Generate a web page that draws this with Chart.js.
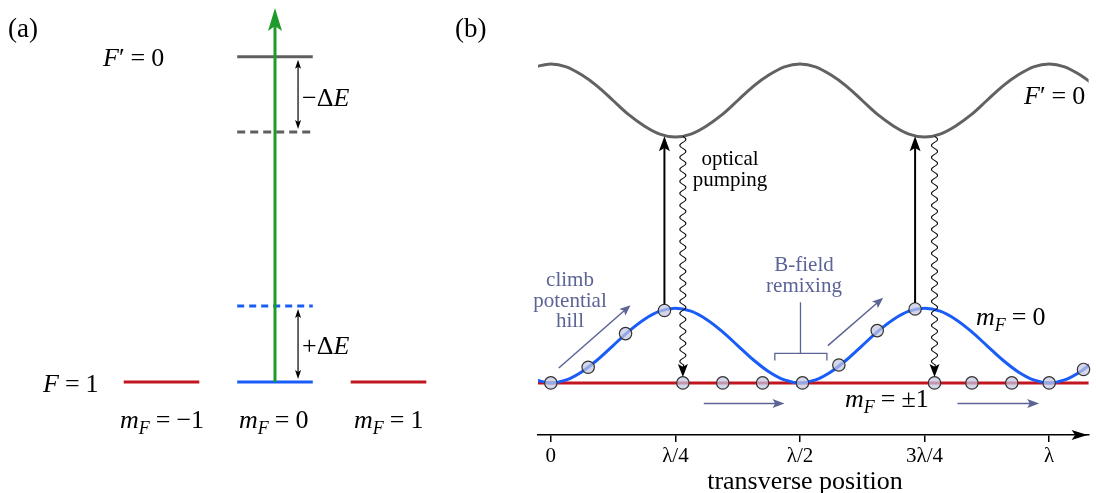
<!DOCTYPE html>
<html>
<head>
<meta charset="utf-8">
<script src="https://cdn.jsdelivr.net/npm/chart.js@4.4.0/dist/chart.umd.min.js"></script>
<style>
  body { margin: 0; background: #fff; }
  #wrap { position: relative; width: 1096px; height: 493px; overflow: hidden; }
  #chartA { position: absolute; left: 0; top: 0; }
  #chartB { position: absolute; left: 440px; top: 0; }
</style>
</head>
<body>
<div id="wrap">
  <canvas id="chartA" width="440" height="493"></canvas>
  <canvas id="chartB" width="656" height="493"></canvas>
</div>
<script>
const serif = '"Liberation Serif", "Times New Roman", serif';
const green = '#1f9b2b', blue = '#1a5cf8', red = '#c1161f', gray = '#666666', slate = '#5b6495';
const atomFill = 'rgba(196,198,226,0.72)';

// ---- panel (a): levels (energy in units of ΔE) ----
const mFStates = [-1, 0, 1];
const levelColors = [red, blue, red];
const levelHalf = 0.333;
const groundE = 0;            // F = 1
const excitedE = 4.28;        // F' = 0
const excitedShiftedE = 3.29; // F' = 0 shifted by -ΔE
const groundShiftedE = 1.0;   // mF = 0 shifted by +ΔE
const laserTopE = 4.92;

// ---- panel (b): potentials vs transverse position (x in λ) ----
const positions = [-0.03125, 0, 0.03125, 0.0625, 0.09375, 0.125, 0.15625, 0.1875, 0.21875, 0.25,
  0.28125, 0.3125, 0.34375, 0.375, 0.40625, 0.4375, 0.46875, 0.5,
  0.53125, 0.5625, 0.59375, 0.625, 0.65625, 0.6875, 0.71875, 0.75,
  0.78125, 0.8125, 0.84375, 0.875, 0.90625, 0.9375, 0.96875, 1,
  1.03125, 1.0625, 1.09375];
const mF0Energy = [0.04, 0, 0.04, 0.15, 0.31, 0.5, 0.69, 0.85, 0.96, 1,
  0.96, 0.85, 0.69, 0.5, 0.31, 0.15, 0.04, 0,
  0.04, 0.15, 0.31, 0.5, 0.69, 0.85, 0.96, 1,
  0.96, 0.85, 0.69, 0.5, 0.31, 0.15, 0.04, 0,
  0.04, 0.15, 0.31];
const excitedEnergy = [4.23, 4.27, 4.23, 4.12, 3.97, 3.78, 3.59, 3.44, 3.33, 3.29,
  3.33, 3.44, 3.59, 3.78, 3.97, 4.12, 4.23, 4.27,
  4.23, 4.12, 3.97, 3.78, 3.59, 3.44, 3.33, 3.29,
  3.33, 3.44, 3.59, 3.78, 3.97, 4.12, 4.23, 4.27,
  4.23, 4.12, 3.97];
const flatAtomsX = [0, 0.265, 0.345, 0.425, 0.505, 0.77, 0.845, 0.925, 1.0];
const hillAtomsX = [0.075, 0.15, 0.228, 0.578, 0.655, 0.731, 1.069];
const hillAtomsE = [0.21, 0.66, 0.97, 0.24, 0.70, 0.99, 0.18];
const tickValues = [0, 0.25, 0.5, 0.75, 1];
const tickLabels = ['0', 'λ/4', 'λ/2', '3λ/4', 'λ'];

Chart.defaults.font.family = serif;
Chart.defaults.color = '#000';

// drawing helpers
function arrowHead(ctx, x1, y1, x2, y2, len, wid, color) {
  const a = Math.atan2(y2 - y1, x2 - x1);
  ctx.save();
  ctx.translate(x2, y2);
  ctx.rotate(a);
  ctx.fillStyle = color;
  ctx.beginPath();
  ctx.moveTo(0, 0);
  ctx.lineTo(-len, -wid / 2);
  ctx.lineTo(-len * 0.78, 0);
  ctx.lineTo(-len, wid / 2);
  ctx.closePath();
  ctx.fill();
  ctx.restore();
}

function arrow(ctx, x1, y1, x2, y2, color, lw, len, wid) {
  const d = Math.hypot(x2 - x1, y2 - y1);
  const ex = x2 - (x2 - x1) / d * len * 0.7, ey = y2 - (y2 - y1) / d * len * 0.7;
  ctx.save();
  ctx.strokeStyle = color;
  ctx.lineWidth = lw;
  ctx.beginPath();
  ctx.moveTo(x1, y1);
  ctx.lineTo(ex, ey);
  ctx.stroke();
  ctx.restore();
  arrowHead(ctx, x1, y1, x2, y2, len, wid, color);
}

function wavyArrow(ctx, x, y1, y2) {
  ctx.save();
  ctx.strokeStyle = '#000';
  ctx.lineWidth = 1.1;
  ctx.lineJoin = 'round';
  ctx.beginPath();
  const end = y2 - 12;
  for (let y = y1; y <= end; y += 0.5) {
    const px = x + 3 * Math.sin(2 * Math.PI * (y - y1) / 12);
    if (y === y1) ctx.moveTo(px, y); else ctx.lineTo(px, y);
  }
  ctx.lineTo(x, y2 - 8);
  ctx.stroke();
  ctx.restore();
  arrowHead(ctx, x, y1, x, y2, 13, 10, '#000');
}

function doubleArrow(ctx, x, y1, y2) {
  arrow(ctx, x, (y1 + y2) / 2, x, y1, '#000', 1.2, 9, 6);
  arrow(ctx, x, (y1 + y2) / 2, x, y2, '#000', 1.2, 9, 6);
}

// parts: [text, 'i' | 'r' | 's'] or a number (gap in px)
function mathText(ctx, x, y, parts, size) {
  size = size || 26;
  let cx = x;
  ctx.save();
  ctx.fillStyle = '#000';
  ctx.textBaseline = 'alphabetic';
  ctx.textAlign = 'left';
  for (const p of parts) {
    if (typeof p === 'number') { cx += p; continue; }
    const [t, k] = p;
    const s = k === 's' ? Math.round(size * 0.68) : size;
    ctx.font = (k === 'r' ? '' : 'italic ') + s + 'px ' + serif;
    ctx.fillText(t, cx, k === 's' ? y + 6 : y);
    cx += ctx.measureText(t).width;
  }
  ctx.restore();
}

function plainText(ctx, t, x, y, size, color, align) {
  ctx.save();
  ctx.font = size + 'px ' + serif;
  ctx.fillStyle = color;
  ctx.textAlign = align || 'center';
  ctx.textBaseline = 'alphabetic';
  ctx.fillText(t, x, y);
  ctx.restore();
}

const mFLabel = val => [['m', 'i'], ['F', 's'], 6, ['=', 'r'], 6, [val, 'r']];

// ---- chart (a) ----
const levelNotes = {
  id: 'levelNotes',
  afterDatasetsDraw(chart) {
    const { ctx, scales: { x, y } } = chart;
    const gx = x.getPixelForValue(0);
    arrowHead(ctx, gx, y.getPixelForValue(groundE), gx, y.getPixelForValue(laserTopE), 23, 14, green);
    const dx = x.getPixelForValue(0.203);
    doubleArrow(ctx, dx, y.getPixelForValue(excitedE) + 3, y.getPixelForValue(excitedShiftedE) - 3);
    doubleArrow(ctx, dx, y.getPixelForValue(groundShiftedE) + 3, y.getPixelForValue(groundE) - 3);

    plainText(ctx, '(a)', 8, 37, 27, '#000', 'left');
    mathText(ctx, 103, 66, [['F', 'i'], ['′', 'r'], 6, ['=', 'r'], 6, ['0', 'r']]);
    mathText(ctx, 43, 392, [['F', 'i'], 6, ['=', 'r'], 6, ['1', 'r']]);
    mathText(ctx, 302, 106, [['−Δ', 'r'], ['E', 'i']]);
    mathText(ctx, 302, 354, [['+Δ', 'r'], ['E', 'i']]);
    mathText(ctx, 120, 428, mFLabel('−1'));
    mathText(ctx, 239, 428, mFLabel('0'));
    mathText(ctx, 354, 428, mFLabel('1'));
  }
};

const flat = (e, color, dash) => ({
  data: [{ x: -levelHalf, y: e }, { x: levelHalf, y: e }],
  borderColor: color, borderWidth: 3, borderDash: dash || [], showLine: true, pointRadius: 0
});

new Chart(document.getElementById('chartA'), {
  type: 'scatter',
  data: {
    datasets: [
      { data: [{ x: 0, y: groundE }, { x: 0, y: laserTopE - 0.15 }], borderColor: green, borderWidth: 3,
        showLine: true, pointRadius: 0, order: -1 },
      ...mFStates.map((m, i) => ({
        data: [{ x: m - levelHalf, y: groundE }, { x: m + levelHalf, y: groundE }],
        borderColor: levelColors[i], borderWidth: 3, showLine: true, pointRadius: 0
      })),
      flat(excitedE, '#5f5f5f'),
      flat(excitedShiftedE, '#5f5f5f', [8, 5]),
      flat(groundShiftedE, blue, [7, 5])
    ]
  },
  options: {
    responsive: false,
    animation: false,
    layout: { padding: 0 },
    plugins: { legend: { display: false }, tooltip: { enabled: false } },
    scales: {
      x: { type: 'linear', display: false, min: -2.4229, max: 1.4537 },
      y: { type: 'linear', display: false, min: -1.461, max: 5.026 }
    }
  },
  plugins: [levelNotes]
});

// ---- chart (b) ----
const offB = 440;
const curveNotes = {
  id: 'curveNotes',
  afterDatasetsDraw(chart) {
    const { ctx, scales: { x, y }, chartArea } = chart;
    const X = v => x.getPixelForValue(v), Y = v => y.getPixelForValue(v);
    const px = v => v - offB;

    // excitation arrows and spontaneous decay
    [2, 5].forEach(i => {
      const ax = X(hillAtomsX[i]);
      arrow(ctx, ax, Y(hillAtomsE[i]) - 6, ax, Y(3.3), '#000', 2, 15, 11);
    });
    [1, 5].forEach(i => {
      const wx = X(flatAtomsX[i]);
      wavyArrow(ctx, wx, Y(3.3), Y(0) - 6);
    });

    // slate annotations
    arrow(ctx, X(0.016), Y(0.20), X(0.160), Y(1.04), slate, 1.5, 11, 9);
    arrow(ctx, X(0.556), Y(0.50), X(0.667), Y(1.14), slate, 1.5, 11, 9);
    arrow(ctx, X(0.307), Y(-0.276), X(0.469), Y(-0.276), slate, 1.5, 12, 9);
    arrow(ctx, X(0.816), Y(-0.276), X(0.980), Y(-0.276), slate, 1.5, 12, 9);
    ctx.save();
    ctx.strokeStyle = slate;
    ctx.lineWidth = 1.3;
    ctx.beginPath();
    ctx.moveTo(X(0.4495), Y(0.30));
    ctx.lineTo(X(0.4495), Y(0.395));
    ctx.lineTo(X(0.554), Y(0.395));
    ctx.lineTo(X(0.554), Y(0.30));
    ctx.moveTo(X(0.501), Y(0.395));
    ctx.lineTo(X(0.501), Y(1.08));
    ctx.stroke();
    ctx.restore();

    // axis arrow head
    const ay = chartArea.bottom;
    arrowHead(ctx, chartArea.left, ay, chartArea.right - 1, ay, 16, 10, '#000');

    // labels
    plainText(ctx, '(b)', px(455), 37, 27, '#000', 'left');
    mathText(ctx, px(1024), 104, [['F', 'i'], ['′', 'r'], 6, ['=', 'r'], 6, ['0', 'r']]);
    mathText(ctx, px(976), 325, mFLabel('0'));
    mathText(ctx, px(845), 407, mFLabel('±1'));
    plainText(ctx, 'optical', px(730), 165, 21, '#000');
    plainText(ctx, 'pumping', px(730), 186, 21, '#000');
    plainText(ctx, 'climb', px(570), 286, 21, slate);
    plainText(ctx, 'potential', px(570), 307, 21, slate);
    plainText(ctx, 'hill', px(570), 327, 21, slate);
    plainText(ctx, 'B-field', px(804), 271, 21, slate);
    plainText(ctx, 'remixing', px(804), 292, 21, slate);
    plainText(ctx, 'transverse position', px(805), 489, 26, '#000');
  }
};

const curve = (ys, color) => ({
  data: positions.map((p, i) => ({ x: p, y: ys[i] })),
  borderColor: color, borderWidth: 3, showLine: true, pointRadius: 0,
  cubicInterpolationMode: 'monotone'
});

new Chart(document.getElementById('chartB'), {
  type: 'scatter',
  data: {
    datasets: [
      { data: hillAtomsX.map((v, i) => ({ x: v, y: hillAtomsE[i] })), pointRadius: 6.2,
        backgroundColor: atomFill, borderColor: '#333', borderWidth: 1.2, clip: false },
      { data: flatAtomsX.map(v => ({ x: v, y: 0 })), pointRadius: 6.2,
        backgroundColor: atomFill, borderColor: '#333', borderWidth: 1.2, clip: false },
      curve(mF0Energy, blue),
      { data: [{ x: positions[0], y: 0 }, { x: positions[positions.length - 1], y: 0 }],
        borderColor: red, borderWidth: 3, showLine: true, pointRadius: 0 },
      curve(excitedEnergy, '#626262')
    ]
  },
  options: {
    responsive: false,
    animation: false,
    layout: { padding: { left: 98, right: 0, top: 0, bottom: 0 } },
    plugins: { legend: { display: false }, tooltip: { enabled: false } },
    scales: {
      x: {
        type: 'linear', min: -0.0257, max: 1.0792,
        afterBuildTicks: s => { s.ticks = tickValues.map(v => ({ value: v })); },
        afterFit: s => { s.height = 58; },
        ticks: {
          autoSkip: false, maxRotation: 0, padding: 2,
          font: { family: serif, size: 21 }, color: '#000',
          callback: v => tickLabels[tickValues.indexOf(v)]
        },
        grid: { drawOnChartArea: false, tickLength: 7, color: '#000', lineWidth: 1.5 },
        border: { color: '#000', width: 1.5 }
      },
      y: { type: 'linear', display: false, min: -0.697, max: 5.026 }
    }
  },
  plugins: [curveNotes]
});
</script>
</body>
</html>
